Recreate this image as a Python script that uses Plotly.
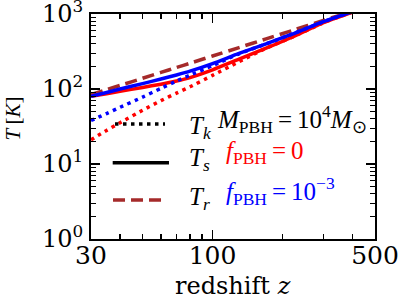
import math
import plotly.graph_objects as go

# redshift grid
z = [30, 35, 40, 50, 60, 70, 80, 100, 130, 170, 220, 300, 400, 500]
# radiation (CMB) temperature T_r
T_r = [84.5, 98.1, 111.7, 139.0, 166.2, 193.5, 220.7, 275.2, 357.0, 466.0, 602.2, 820.2, 1092.7, 1365.2]
# f_PBH = 0 (red)
Ts_f0 = [80, 86.5, 93, 105, 116, 128, 142, 180, 250, 350, 490, 765, 1060, 1345]
Tk_f0 = [21, 28, 35.5, 52, 70, 88, 107, 152, 231, 350, 490, 765, 1060, 1345]
# f_PBH = 1e-3 (blue)
Ts_f3 = [80, 90, 100, 118, 136, 154, 173, 218, 298, 400, 540, 790, 1075, 1350]
Tk_f3 = [38, 47, 57, 78, 102, 128, 153, 205, 295, 400, 540, 790, 1075, 1350]

x_ticks = [30, 100, 500]
x_minor = [40, 50, 60, 70, 80, 90, 200, 300, 400]
y_ticks = [1, 10, 100, 1000]
y_labels = ["10<sup>0</sup>", "10<sup>1</sup>", "10<sup>2</sup>", "10<sup>3</sup>"]
y_minor = [m * d for d in (1, 10, 100) for m in range(2, 10)]

RED = "#ff0000"
BLUE = "#0000ff"
BROWN = "#a52a2a"
LW = 3.5
DOT = "3.5px,4.5px"
DASH = "12px,6px"

fig = go.Figure()
for ys, col, dash in [(T_r, BROWN, DASH), (Tk_f0, RED, DOT), (Ts_f0, RED, None),
                      (Tk_f3, BLUE, DOT), (Ts_f3, BLUE, None)]:
    ln = dict(color=col, width=LW, shape="spline", smoothing=0.6)
    if dash:
        ln["dash"] = dash
    fig.add_trace(go.Scatter(x=z, y=ys, mode="lines", line=ln, hoverinfo="skip"))

axis_common = dict(
    type="log", showline=True, linecolor="black", linewidth=2, mirror="allticks",
    ticks="inside", ticklen=9, tickwidth=1.5, tickcolor="black", showgrid=False, zeroline=False,
    automargin=False, ticklabeloverflow="allow",
)
fig.update_xaxes(**axis_common, range=[math.log10(30) - 1e-6, math.log10(500) + 1e-6],
                 tickmode="array", tickvals=x_ticks, ticktext=[str(v) for v in x_ticks],
                 ticklabelstandoff=-7,
                 tickfont=dict(family="DejaVu Serif", size=25, color="black"),
                 minor=dict(tickmode="array", tickvals=x_minor, ticks="inside", ticklen=5,
                            tickwidth=1.2, tickcolor="black", showgrid=False))
fig.update_yaxes(**axis_common, range=[-1e-6, 3 + 1e-6],
                 tickmode="array", tickvals=y_ticks, ticktext=y_labels,
                 ticklabelstandoff=1,
                 tickfont=dict(family="DejaVu Serif", size=24, color="black"),
                 minor=dict(tickmode="array", tickvals=y_minor, ticks="inside", ticklen=5,
                            tickwidth=1.2, tickcolor="black", showgrid=False))

# legend keys (decoration)
leg = [
    (0.511, dict(color="black", width=LW, dash=DOT), 0.0845, 0.2606),
    (0.339, dict(color="black", width=LW), 0.0764, 0.2746),
    (0.173, dict(color=BROWN, width=LW, dash=DASH), 0.0775, 0.2606),
]
for yy, ln, x0, x1 in leg:
    fig.add_shape(type="line", xref="paper", yref="paper", x0=x0, x1=x1, y0=yy, y1=yy, line=ln)

TF = "Liberation Serif"
EQ = "\u2009=\u2009"
ann = [
    ("<i>T</i><sub><i>k</i></sub>", 0.3385, 0.495, "black"),
    ("<i>T</i><sub><i>s</i></sub>", 0.3385, 0.353, "black"),
    ("<i>T</i><sub><i>r</i></sub>", 0.3385, 0.18, "black"),
    ("<i>M</i><sub>PBH</sub>" + EQ + "10<sup>4</sup><i>M</i><sub>⊙</sub>", 0.436, 0.535, "black"),
    ("<i>f</i><sub>PBH</sub>" + EQ + "0", 0.47, 0.385, RED),
    ("<i>f</i><sub>PBH</sub>" + EQ + "10<sup>−3</sup>", 0.47, 0.215, BLUE),
]
for txt, xx, yy, col in ann:
    fig.add_annotation(text=txt, xref="paper", yref="paper", x=xx, y=yy, xanchor="left",
                       yanchor="middle", showarrow=False,
                       font=dict(family=TF, size=25, color=col))

fig.add_annotation(text="redshift <i>z</i>", xref="paper", yref="paper", x=0.5, y=-0.21,
                   xanchor="center", yanchor="middle", showarrow=False,
                   font=dict(family="DejaVu Serif", size=24, color="black"))
fig.add_annotation(text="<i>T</i>\u2009[<i>K</i>]", xref="paper", yref="paper", x=-0.2746, y=0.5356,
                   xanchor="center", yanchor="middle", showarrow=False, textangle=-90,
                   font=dict(family=TF, size=21, color="black"))

fig.update_layout(
    width=399, height=299, margin=dict(l=91, r=24, t=14, b=60),
    paper_bgcolor="white", plot_bgcolor="white", showlegend=False, hovermode=False,
)
fig.write_html("out.html", config={"displayModeBar": False, "staticPlot": True},
               post_script="document.body.style.margin='0';document.body.style.padding='0';")
